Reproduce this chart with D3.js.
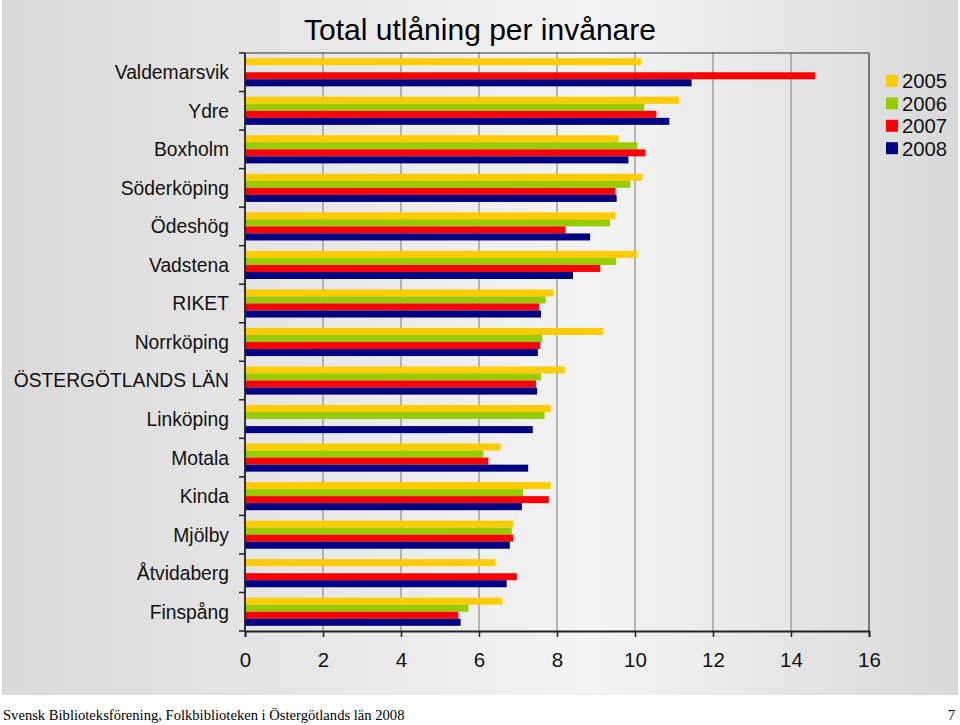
<!DOCTYPE html>
<html>
<head>
<meta charset="utf-8">
<script src="https://cdn.jsdelivr.net/npm/d3@7"></script>
<style>
  html, body { margin: 0; padding: 0; background: #ffffff; }
  svg { display: block; }
</style>
</head>
<body>
<script>
// ---- Data ----
const categories = ["Valdemarsvik", "Ydre", "Boxholm", "Söderköping", "Ödeshög", "Vadstena", "RIKET",
  "Norrköping", "ÖSTERGÖTLANDS LÄN", "Linköping", "Motala", "Kinda", "Mjölby", "Åtvidaberg", "Finspång"];
const seriesNames = ["2005", "2006", "2007", "2008"];
const values2005 = [10.16, 11.13, 9.58, 10.19, 9.50, 10.06, 7.91, 9.19, 8.20, 7.84, 6.55, 7.84, 6.88, 6.42, 6.60];
const values2006 = [null, 10.24, 10.06, 9.88, 9.36, 9.52, 7.71, 7.62, 7.59, 7.68, 6.11, 7.13, 6.84, null, 5.73];
const values2007 = [14.62, 10.55, 10.27, 9.50, 8.22, 9.11, 7.54, 7.57, 7.46, null, 6.24, 7.79, 6.88, 6.97, 5.47];
const values2008 = [11.45, 10.88, 9.83, 9.53, 8.85, 8.41, 7.59, 7.51, 7.49, 7.38, 7.26, 7.10, 6.79, 6.71, 5.53];
const xTicks = [0, 2, 4, 6, 8, 10, 12, 14, 16];
const colors = ["#FFCC00", "#99CC00", "#FF0000", "#000080"];
const titleText = "Total utlåning per invånare";
const footerText = "Svensk Biblioteksförening, Folkbiblioteken i Östergötlands län 2008";
const pageNumber = "7";

const seriesValues = [values2005, values2006, values2007, values2008];
const rows = [];
categories.forEach((c, i) => {
  seriesNames.forEach((s, j) => {
    if (seriesValues[j][i] != null) rows.push({ cat: c, series: s, value: seriesValues[j][i], color: colors[j] });
  });
});

// ---- Layout ----
const W = 960, H = 725;
const plot = { left: 245, right: 869, top: 53, bottom: 631 };

const svg = d3.select("body").append("svg").attr("width", W).attr("height", H)
  .style("font-family", "'Liberation Sans', Arial, Helvetica, sans-serif");

const defs = svg.append("defs");
const grad = defs.append("linearGradient").attr("id", "bg").attr("x1", "0").attr("x2", "1").attr("y1", "0").attr("y2", "0");
grad.append("stop").attr("offset", "0").attr("stop-color", "#dadada");
grad.append("stop").attr("offset", "0.62").attr("stop-color", "#f4f4f4");
grad.append("stop").attr("offset", "1").attr("stop-color", "#d9d9d9");

svg.append("rect").attr("x", 0).attr("y", 0).attr("width", W).attr("height", H).attr("fill", "#ffffff");
svg.append("rect").attr("x", 2).attr("y", 0).attr("width", W - 4).attr("height", 695).attr("fill", "url(#bg)");

// ---- Scales ----
const x = d3.scaleLinear().domain([0, 16]).range([plot.left, plot.right]);
const y = d3.scaleBand().domain(categories).range([plot.top, plot.bottom]).paddingInner(0).paddingOuter(0);
const yInner = d3.scaleBand().domain(seriesNames).range([y.bandwidth() * 0.135, y.bandwidth() * 0.865]).padding(0);

// gridlines
svg.append("g").selectAll("line").data(xTicks.filter(t => t > 0 && t < 16)).join("line")
  .attr("x1", d => x(d)).attr("x2", d => x(d))
  .attr("y1", plot.top).attr("y2", plot.bottom)
  .attr("stroke", "#a0a0a0").attr("stroke-width", 1.5);

// bars
svg.append("g").selectAll("rect").data(rows).join("rect")
  .attr("x", x(0))
  .attr("y", d => y(d.cat) + yInner(d.series))
  .attr("width", d => x(d.value) - x(0))
  .attr("height", yInner.bandwidth())
  .attr("fill", d => d.color);

// plot border (top, right)
svg.append("line").attr("x1", plot.left).attr("x2", plot.right).attr("y1", plot.top).attr("y2", plot.top)
  .attr("stroke", "#333").attr("stroke-width", 1.2);
svg.append("line").attr("x1", plot.right).attr("x2", plot.right).attr("y1", plot.top).attr("y2", plot.bottom)
  .attr("stroke", "#333").attr("stroke-width", 1.2);

// x axis
const xAxis = svg.append("g").attr("transform", `translate(0,${plot.bottom})`)
  .call(d3.axisBottom(x).tickValues(xTicks).tickFormat(d3.format("d")).tickSize(6).tickPadding(15));
xAxis.select(".domain").attr("stroke", "#222").attr("stroke-width", 1.8);
xAxis.selectAll(".tick line").attr("stroke", "#222").attr("stroke-width", 1.5);
xAxis.selectAll("text").attr("font-size", 20.5).attr("fill", "#111")
  .style("font-family", "'Liberation Sans', Arial, sans-serif");

// y axis (ticks at band boundaries)
const yAx = svg.append("g");
yAx.append("line").attr("x1", plot.left).attr("x2", plot.left).attr("y1", plot.top).attr("y2", plot.bottom)
  .attr("stroke", "#222").attr("stroke-width", 1.8);
const boundaries = categories.map(c => y(c)).concat([plot.bottom]);
yAx.selectAll("line.tk").data(boundaries).join("line").attr("class", "tk")
  .attr("x1", plot.left - 6).attr("x2", plot.left).attr("y1", d => d).attr("y2", d => d)
  .attr("stroke", "#222").attr("stroke-width", 1.5);
yAx.selectAll("text").data(categories).join("text")
  .attr("x", 229).attr("y", d => y(d) + y.bandwidth() / 2)
  .attr("dy", "0.36em").attr("text-anchor", "end")
  .attr("font-size", 19.3).attr("fill", "#111").text(d => d);

// title
svg.append("text").attr("x", 480).attr("y", 40).attr("text-anchor", "middle")
  .attr("font-size", 30).attr("fill", "#000").text(titleText);

// legend
const lg = svg.append("g");
seriesNames.forEach((s, i) => {
  const cy = 81 + i * 22.4;
  lg.append("rect").attr("x", 886).attr("y", cy - 6).attr("width", 12).attr("height", 12).attr("fill", colors[i]);
  lg.append("text").attr("x", 902).attr("y", cy).attr("dy", "0.36em")
    .attr("font-size", 20.3).attr("fill", "#111").text(s);
});

// footer
svg.append("text").attr("x", 3).attr("y", 720)
  .style("font-family", "'Liberation Serif', 'Times New Roman', serif")
  .attr("font-size", 14.6).attr("fill", "#000").text(footerText);
svg.append("text").attr("x", 955).attr("y", 720).attr("text-anchor", "end")
  .style("font-family", "'Liberation Serif', 'Times New Roman', serif")
  .attr("font-size", 14).attr("fill", "#000").text(pageNumber);
</script>
</body>
</html>
